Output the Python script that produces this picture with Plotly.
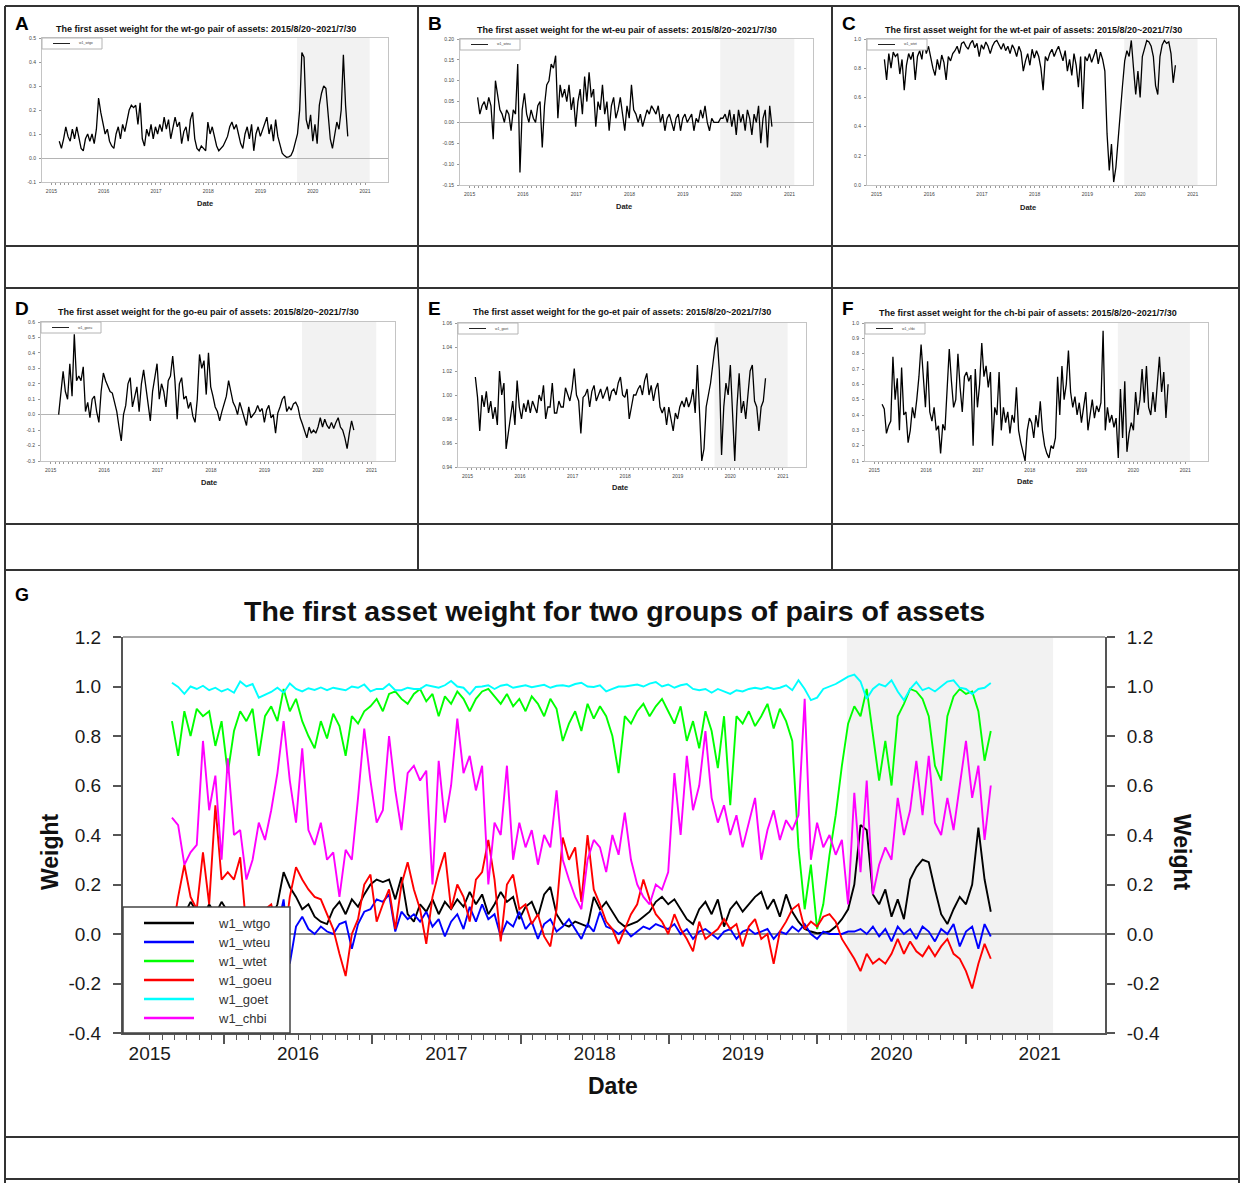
import numpy as np
import plotly.graph_objects as go

W, H = 1244, 1190
FONT = "Liberation Sans, Arial, sans-serif"

# decimal-year position of each observation (roughly every two weeks)
dates = np.linspace(2015.15, 2020.67, 133)

w1_wtgo = [0.07, 0.04, 0.08, 0.13, 0.09, 0.07, 0.12, 0.08, 0.13, 0.09,
           0.04, 0.03, 0.08, 0.10, 0.07, 0.10, 0.06, 0.12, 0.25, 0.19,
           0.15, 0.10, 0.12, 0.07, 0.05, 0.04, 0.10, 0.13, 0.08, 0.14,
           0.11, 0.16, 0.20, 0.22, 0.21, 0.22, 0.14, 0.23, 0.08, 0.05,
           0.12, 0.09, 0.14, 0.08, 0.13, 0.10, 0.14, 0.11, 0.17, 0.12,
           0.16, 0.08, 0.12, 0.17, 0.13, 0.15, 0.06, 0.11, 0.13, 0.07,
           0.16, 0.19, 0.08, 0.04, 0.03, 0.05, 0.04, 0.03, 0.15, 0.10,
           0.13, 0.09, 0.05, 0.03, 0.04, 0.05, 0.07, 0.09, 0.13, 0.15,
           0.12, 0.14, 0.10, 0.06, 0.04, 0.10, 0.13, 0.08, 0.14, 0.03,
           0.10, 0.13, 0.09, 0.12, 0.15, 0.17, 0.10, 0.14, 0.07, 0.16,
           0.09, 0.05, 0.02, 0.01, 0.003, 0.005, 0.01, 0.03, 0.06, 0.10,
           0.20, 0.44, 0.42, 0.16, 0.12, 0.18, 0.07, 0.14, 0.06, 0.22,
           0.27, 0.30, 0.29, 0.18, 0.08, 0.04, 0.10, 0.15, 0.12, 0.20,
           0.43, 0.22, 0.09]

w1_wteu = [0.06, 0.02, 0.04, 0.05, 0.03, 0.06, 0.04, -0.04, 0.10, 0.06,
           0.03, 0.02, 0.00, 0.03, 0.02, -0.02, 0.03, 0.02, 0.14, -0.12,
           0.03, 0.07, 0.02, 0.00, 0.03, 0.01, 0.00, 0.04, 0.05, -0.06,
           0.04, 0.09, 0.10, 0.14, 0.13, 0.16, 0.01, 0.09, 0.06, 0.08,
           0.05, 0.09, 0.03, 0.06, -0.01, 0.05, 0.08, 0.02, 0.11, 0.05,
           0.12, 0.06, 0.08, -0.01, 0.05, 0.03, 0.09, 0.02, 0.05, -0.02,
           0.04, 0.06, 0.01, 0.03, 0.06, 0.02, -0.02, 0.04, 0.01, 0.09,
           0.03, 0.02, 0.00, 0.02, -0.01, 0.01, 0.03, 0.02, 0.04, 0.03,
           0.02, 0.04, 0.00, 0.02, -0.02, 0.01, 0.02, 0.00, -0.02, 0.01,
           0.02, -0.02, 0.01, 0.02, 0.00, 0.01, 0.02, -0.02, 0.01, 0.00,
           0.03, 0.01, 0.04, 0.00, -0.02, 0.01, 0.00, 0.00, 0.00, 0.01,
           0.01, 0.02, 0.00, 0.03, -0.01, 0.02, -0.03, 0.03, 0.00, 0.02,
           -0.02, 0.03, 0.01, -0.03, 0.02, 0.00, 0.04, -0.05, 0.01, 0.03,
           -0.06, 0.04, -0.01]

w1_wtet = [0.86, 0.72, 0.90, 0.80, 0.91, 0.88, 0.90, 0.76, 0.86, 0.65,
           0.82, 0.90, 0.86, 0.91, 0.72, 0.88, 0.92, 0.86, 0.99, 0.90,
           0.95, 0.86, 0.80, 0.75, 0.86, 0.79, 0.89, 0.84, 0.72, 0.88,
           0.85, 0.90, 0.92, 0.95, 0.90, 0.97, 0.98, 0.95, 0.93, 0.97,
           0.99, 0.94, 0.97, 0.88, 0.96, 0.93, 0.98, 0.95, 0.90, 0.95,
           0.98, 0.99, 0.96, 0.93, 0.97, 0.92, 0.95, 0.90, 0.96, 0.93,
           0.88, 0.95, 0.91, 0.78, 0.85, 0.90, 0.82, 0.93, 0.87, 0.92,
           0.88, 0.80, 0.65, 0.88, 0.85, 0.90, 0.93, 0.88, 0.92, 0.95,
           0.90, 0.85, 0.92, 0.78, 0.86, 0.75, 0.90, 0.82, 0.67, 0.88,
           0.52, 0.88, 0.85, 0.90, 0.84, 0.88, 0.93, 0.83, 0.91, 0.86,
           0.78, 0.35, 0.10, 0.28, 0.02, 0.12, 0.32, 0.48, 0.68, 0.85,
           0.92, 0.88, 0.99, 0.80, 0.62, 0.78, 0.60, 0.88, 0.93, 0.99,
           0.98, 0.95, 0.88, 0.68, 0.62, 0.88, 0.96, 0.99, 0.97, 0.98,
           0.90, 0.70, 0.82]

w1_goeu = [0.00, 0.15, 0.28, 0.15, 0.10, 0.33, 0.12, 0.52, 0.22, 0.25,
           0.22, 0.31, 0.02, 0.08, -0.02, 0.10, 0.12, 0.02, -0.05, 0.15,
           0.27, 0.22, 0.18, 0.15, 0.14, 0.08, 0.02, -0.08, -0.17, 0.00,
           0.06, 0.20, 0.24, 0.05, 0.12, 0.18, 0.02, 0.20, 0.29, 0.18,
           0.10, -0.04, 0.15, 0.25, 0.33, 0.10, 0.20, 0.15, 0.05, 0.22,
           0.25, 0.38, 0.22, -0.03, 0.20, 0.24, 0.10, 0.12, 0.04, 0.08,
           -0.01, -0.05, 0.10, 0.39, 0.30, 0.35, 0.13, 0.40, 0.18, 0.12,
           0.05, 0.02, -0.04, 0.02, 0.08, 0.12, 0.22, 0.14, 0.08, 0.05,
           0.00, 0.08, 0.02, -0.02, -0.07, 0.05, -0.02, 0.00, 0.02, 0.06,
           0.02, 0.04, -0.05, 0.03, 0.06, -0.02, 0.00, -0.12, 0.01, 0.05,
           0.10, 0.12, 0.02, 0.05, 0.03, 0.07, 0.08, 0.05, -0.02, -0.06,
           -0.10, -0.15, -0.08, -0.12, -0.10, -0.12, -0.08, -0.02, -0.08, -0.03,
           -0.07, -0.09, -0.05, -0.09, -0.05, -0.02, -0.08, -0.10, -0.15, -0.22,
           -0.12, -0.04, -0.10]

w1_goet = [1.015, 0.998, 0.970, 1.000, 0.990, 1.003, 0.985, 0.995, 0.980, 0.990,
           0.975, 1.020, 1.000, 1.010, 0.955, 0.968, 0.978, 0.995, 0.975, 1.012,
           0.990, 0.980, 0.993, 0.986, 0.996, 0.985, 0.995, 0.990, 0.985, 1.000,
           0.995, 1.008, 0.980, 0.990, 0.990, 1.010, 0.985, 0.985, 0.995, 0.990,
           0.990, 1.006, 1.000, 0.995, 1.005, 1.022, 1.000, 0.995, 0.968, 0.998,
           1.000, 1.005, 0.990, 1.003, 1.008, 0.995, 1.000, 1.005, 0.997, 1.003,
           1.007, 0.995, 1.003, 1.005, 1.000, 1.010, 1.015, 1.000, 0.998, 1.005,
           0.980, 0.990, 1.000, 1.000, 1.005, 1.008, 1.000, 1.012, 1.018, 1.000,
           1.008, 0.995, 1.005, 1.010, 0.990, 0.985, 0.990, 0.975, 0.990, 0.980,
           0.970, 0.985, 0.980, 0.990, 0.995, 0.990, 0.998, 0.990, 0.995, 1.005,
           0.985, 1.025, 0.990, 0.945, 0.955, 0.990, 1.000, 1.010, 1.025, 1.040,
           1.048, 1.020, 0.950, 0.990, 1.010, 1.000, 1.025, 0.980, 0.945, 0.990,
           1.018, 0.985, 0.995, 0.980, 1.000, 1.020, 1.025, 0.995, 0.990, 0.970,
           0.990, 0.995, 1.014]

w1_chbi = [0.47, 0.44, 0.28, 0.33, 0.36, 0.78, 0.50, 0.64, 0.30, 0.71,
           0.40, 0.42, 0.22, 0.30, 0.45, 0.38, 0.50, 0.65, 0.86, 0.62,
           0.45, 0.75, 0.42, 0.36, 0.45, 0.30, 0.33, 0.15, 0.34, 0.30,
           0.55, 0.83, 0.62, 0.45, 0.50, 0.80, 0.58, 0.42, 0.65, 0.68,
           0.62, 0.66, 0.20, 0.70, 0.45, 0.60, 0.87, 0.65, 0.72, 0.58,
           0.68, 0.20, 0.45, 0.40, 0.68, 0.30, 0.45, 0.35, 0.42, 0.28,
           0.40, 0.35, 0.58, 0.30, 0.22, 0.15, 0.10, 0.30, 0.38, 0.35,
           0.25, 0.40, 0.32, 0.49, 0.30, 0.20, 0.15, 0.12, 0.20, 0.18,
           0.25, 0.65, 0.40, 0.72, 0.50, 0.60, 0.82, 0.55, 0.45, 0.52,
           0.40, 0.48, 0.35, 0.45, 0.55, 0.30, 0.42, 0.50, 0.38, 0.46,
           0.42, 0.48, 0.95, 0.30, 0.45, 0.35, 0.40, 0.32, 0.38, 0.12,
           0.57, 0.25, 0.62, 0.16, 0.28, 0.35, 0.30, 0.55, 0.40, 0.50,
           0.70, 0.48, 0.72, 0.45, 0.40, 0.55, 0.42, 0.60, 0.78, 0.55,
           0.68, 0.38, 0.60]

series = [w1_wtgo, w1_wteu, w1_wtet, w1_goeu, w1_goet, w1_chbi]
names = ["w1_wtgo", "w1_wteu", "w1_wtet", "w1_goeu", "w1_goet", "w1_chbi"]
pairs = ["wt-go", "wt-eu", "wt-et", "go-eu", "go-et", "ch-bi"]
letters = ["A", "B", "C", "D", "E", "F"]
colors = ["#000000", "#0000ff", "#00ff00", "#ff0000", "#00ffff", "#ff00ff"]
for s in series:
    assert len(s) == len(dates)

y_ranges = [[-0.1, 0.5], [-0.15, 0.20], [0.0, 1.0], [-0.3, 0.6], [0.94, 1.06], [0.1, 1.0]]
y_dticks = [0.1, 0.05, 0.2, 0.1, 0.02, 0.1]
y_formats = [".1f", ".2f", ".1f", ".1f", ".2f", ".1f"]
g_y_range = [-0.4, 1.2]

year_ticks = [2015, 2016, 2017, 2018, 2019, 2020, 2021]
mid_year_ticks = [y + 0.5 for y in year_ticks[:-1]]
month_ticks = [2015 + m / 12 for m in range(0, 6 * 12 + 1)]
x_range = [2014.82, 2021.44]
shade_start, shade_end = 2019.70, 2021.09

# pixel layout of the page (left, top, right, bottom)
boxes = [(42, 38, 388, 182), (460, 39, 813, 185), (867, 39, 1216, 185),
         (41, 322, 395, 461), (458, 323, 806, 467), (865, 323, 1208, 461)]
title_pos = [(206, 29), (627, 30), (1033, 30), (209, 312), (622, 312), (1028, 313)]
date_pos = [(205, 203), (624, 206), (1028, 207), (209, 482), (620, 487), (1025, 481)]
letter_pos = [(13, 15), (426, 15), (840, 15), (13, 300), (426, 300), (840, 300)]
g_box = (123, 637, 1105, 1033)
g_legend_box = (123, 907, 290, 1033)


def px(x):
    return x / W


def py(y):
    return 1 - y / H


def ax(letter, k):
    # plotly calls the first axis "x"/"y", not "x1"/"y1"
    return letter if k == 1 else f"{letter}{k}"


def tick_labels(lo, hi, step, fmt):
    vals = [round(v, 4) + 0.0 for v in np.arange(lo, hi + step / 2, step)]
    return vals, [format(v, fmt) for v in vals]


fig = go.Figure()
layout = dict(
    width=W, height=H, autosize=False,
    margin=dict(l=0, r=0, t=0, b=0, autoexpand=False),
    paper_bgcolor="white", plot_bgcolor="white",
    font=dict(family=FONT, color="#222"),
    showlegend=False,
)
shapes = []
annotations = []


def ann(text, x, y, size, color="#111", **kw):
    d = dict(text=text, x=x, y=y, xref="paper", yref="paper", showarrow=False,
             xanchor="center", yanchor="middle", font=dict(size=size, color=color))
    d.update(kw)
    annotations.append(d)


# six small panels
for k in range(1, 7):
    l, t, r, b = boxes[k - 1]
    s = series[k - 1]
    xa, ya = ax("x", k), ax("y", k)
    fig.add_trace(go.Scatter(
        x=dates, y=s, mode="lines", name=names[k - 1],
        line=dict(color="black", width=1.3), xaxis=xa, yaxis=ya,
    ))
    yv, yt = tick_labels(y_ranges[k - 1][0], y_ranges[k - 1][1], y_dticks[k - 1], y_formats[k - 1])
    layout[xa.replace("x", "xaxis")] = dict(
        domain=[px(l), px(r)], range=x_range, anchor=ya,
        tickvals=year_ticks, ticks="", ticklabelstandoff=4,
        tickfont=dict(size=5, color="#444"),
        showline=True, mirror=True, linecolor="#c4c4c4", linewidth=1,
        showgrid=False, zeroline=False,
        minor=dict(tickvals=month_ticks, ticks="outside", ticklen=2,
                   tickcolor="#999", tickwidth=1),
    )
    layout[ya.replace("y", "yaxis")] = dict(
        domain=[py(b), py(t)], range=y_ranges[k - 1], anchor=xa,
        tickvals=yv, ticktext=yt,
        ticks="outside", ticklen=2, tickcolor="#999", ticklabelstandoff=2,
        tickfont=dict(size=5, color="#444"),
        showline=True, mirror=True, linecolor="#c4c4c4", linewidth=1,
        showgrid=False,
        zeroline=k in (1, 2, 4), zerolinecolor="#b4b4b4", zerolinewidth=1,
    )
    shapes.append(dict(type="rect", xref=xa, yref=f"{ya} domain",
                       x0=shade_start, x1=shade_end, y0=0, y1=1,
                       fillcolor="#f2f2f2", line=dict(width=0), layer="below"))
    # little legend box in the top-left corner
    shapes.append(dict(type="rect", xref="paper", yref="paper",
                       x0=px(l), x1=px(l + 60), y0=py(t + 11), y1=py(t),
                       fillcolor="white", line=dict(color="#b4b4b4", width=1)))
    shapes.append(dict(type="line", xref="paper", yref="paper",
                       x0=px(l + 11), x1=px(l + 28), y0=py(t + 5.5), y1=py(t + 5.5),
                       line=dict(color="#222", width=1)))
    ann(names[k - 1], px(l + 35), py(t + 5.5), 3.5, "#444", xanchor="left")

    tx, ty = title_pos[k - 1]
    ann(f"<b>The first asset weight for the {pairs[k - 1]} pair of assets: 2015/8/20~2021/7/30</b>",
        px(tx), py(ty), 9)
    dx, dy = date_pos[k - 1]
    ann("<b>Date</b>", px(dx), py(dy), 7.5, "#222")
    lx, ly = letter_pos[k - 1]
    ann(f"<b>{letters[k - 1]}</b>", px(lx), py(ly - 4), 19, "black", xanchor="left", yanchor="top")

# combined panel G
gl, gt, gr, gb = g_box
for name, s, c in zip(names, series, colors):
    fig.add_trace(go.Scatter(
        x=dates, y=s, mode="lines", name=name,
        line=dict(color=c, width=1.9), xaxis="x7", yaxis="y7",
    ))
# helpers so the overlay axes get drawn
fig.add_trace(go.Scatter(x=[None], y=[None], xaxis="x8", yaxis="y7", hoverinfo="skip"))
fig.add_trace(go.Scatter(x=[None], y=[None], xaxis="x7", yaxis="y8", hoverinfo="skip"))

axis_col = "#555"
gv, gtxt = tick_labels(g_y_range[0], g_y_range[1], 0.2, ".1f")
layout["xaxis7"] = dict(
    domain=[px(gl), px(gr)], range=x_range, anchor="y7",
    tickvals=year_ticks, ticks="", ticklabelstandoff=2,
    tickfont=dict(size=19, color="#1a1a1a"),
    showline=True, linecolor=axis_col, linewidth=2,
    showgrid=False, zeroline=False,
    minor=dict(tickvals=month_ticks, ticks="outside", ticklen=5,
               tickcolor=axis_col, tickwidth=1),
)
layout["xaxis8"] = dict(
    overlaying="x7", anchor="y7", range=x_range,
    tickvals=mid_year_ticks, ticks="outside", ticklen=10, tickwidth=1.5,
    tickcolor=axis_col, showticklabels=False, showline=False,
    showgrid=False, zeroline=False,
)
layout["yaxis7"] = dict(
    domain=[py(gb), py(gt)], range=g_y_range, anchor="x7",
    tickvals=gv, ticktext=gtxt,
    ticks="outside", ticklen=8, tickcolor=axis_col, tickwidth=1.5,
    ticklabelstandoff=8, tickfont=dict(size=19, color="#1a1a1a"),
    showline=True, linecolor=axis_col, linewidth=2, showgrid=False,
    zeroline=True, zerolinecolor="#8c8c8c", zerolinewidth=2,
)
layout["yaxis8"] = dict(
    overlaying="y7", side="right", anchor="x7", range=g_y_range,
    tickvals=gv, ticktext=gtxt,
    ticks="outside", ticklen=8, tickcolor=axis_col, tickwidth=1.5,
    ticklabelstandoff=8, tickfont=dict(size=19, color="#1a1a1a"),
    showline=True, linecolor=axis_col, linewidth=2, showgrid=False, zeroline=False,
)
shapes.append(dict(type="rect", xref="x7", yref="y7 domain",
                   x0=shade_start, x1=shade_end, y0=0, y1=1,
                   fillcolor="#f2f2f2", line=dict(width=0), layer="below"))
shapes.append(dict(type="line", xref="x7 domain", yref="y7 domain",
                   x0=0, x1=1, y0=1, y1=1, line=dict(color="#a8a8a8", width=2)))

# legend of panel G, drawn as a box in the lower-left corner
ll, lt, lr, lb = g_legend_box
shapes.append(dict(type="rect", xref="paper", yref="paper",
                   x0=px(ll), x1=px(lr), y0=py(lb), y1=py(lt),
                   fillcolor="white", line=dict(color="#444", width=1.5)))
for j, (name, c) in enumerate(zip(names, colors)):
    ry = lt + 16 + 19 * j
    shapes.append(dict(type="line", xref="paper", yref="paper",
                       x0=px(ll + 21), x1=px(ll + 71), y0=py(ry), y1=py(ry),
                       line=dict(color=c, width=2.5)))
    ann(name, px(ll + 93), py(ry), 13, "#333", xanchor="left")

ann("<b>The first asset weight for two groups of pairs of assets</b>", px(614), py(611), 28.5)
ann("<b>Date</b>", px(613), py(1086), 23)
ann("<b>Weight</b>", px(50), py(852), 23, textangle=-90)
ann("<b>Weight</b>", px(1182), py(852), 23, textangle=90)
ann("<b>G</b>", px(13), py(583), 18, "black", xanchor="left", yanchor="top")

# table grid around the panels
grid_col = "#333"
for gy in [6, 246, 288, 524, 570, 1137, 1179]:
    shapes.append(dict(type="line", xref="paper", yref="paper",
                       x0=px(5), x1=px(1239), y0=py(gy), y1=py(gy),
                       line=dict(color=grid_col, width=2)))
for gx in [5, 1239]:
    shapes.append(dict(type="line", xref="paper", yref="paper",
                       x0=px(gx), x1=px(gx), y0=py(6), y1=py(1183),
                       line=dict(color=grid_col, width=2)))
for gx in [418, 832]:
    shapes.append(dict(type="line", xref="paper", yref="paper",
                       x0=px(gx), x1=px(gx), y0=py(6), y1=py(570),
                       line=dict(color=grid_col, width=2)))

layout["shapes"] = shapes
layout["annotations"] = annotations
fig.update_layout(**layout)

fig.write_html("out.html", config={"displayModeBar": False},
               post_script="document.body.style.margin='0';document.body.style.overflow='hidden';")
